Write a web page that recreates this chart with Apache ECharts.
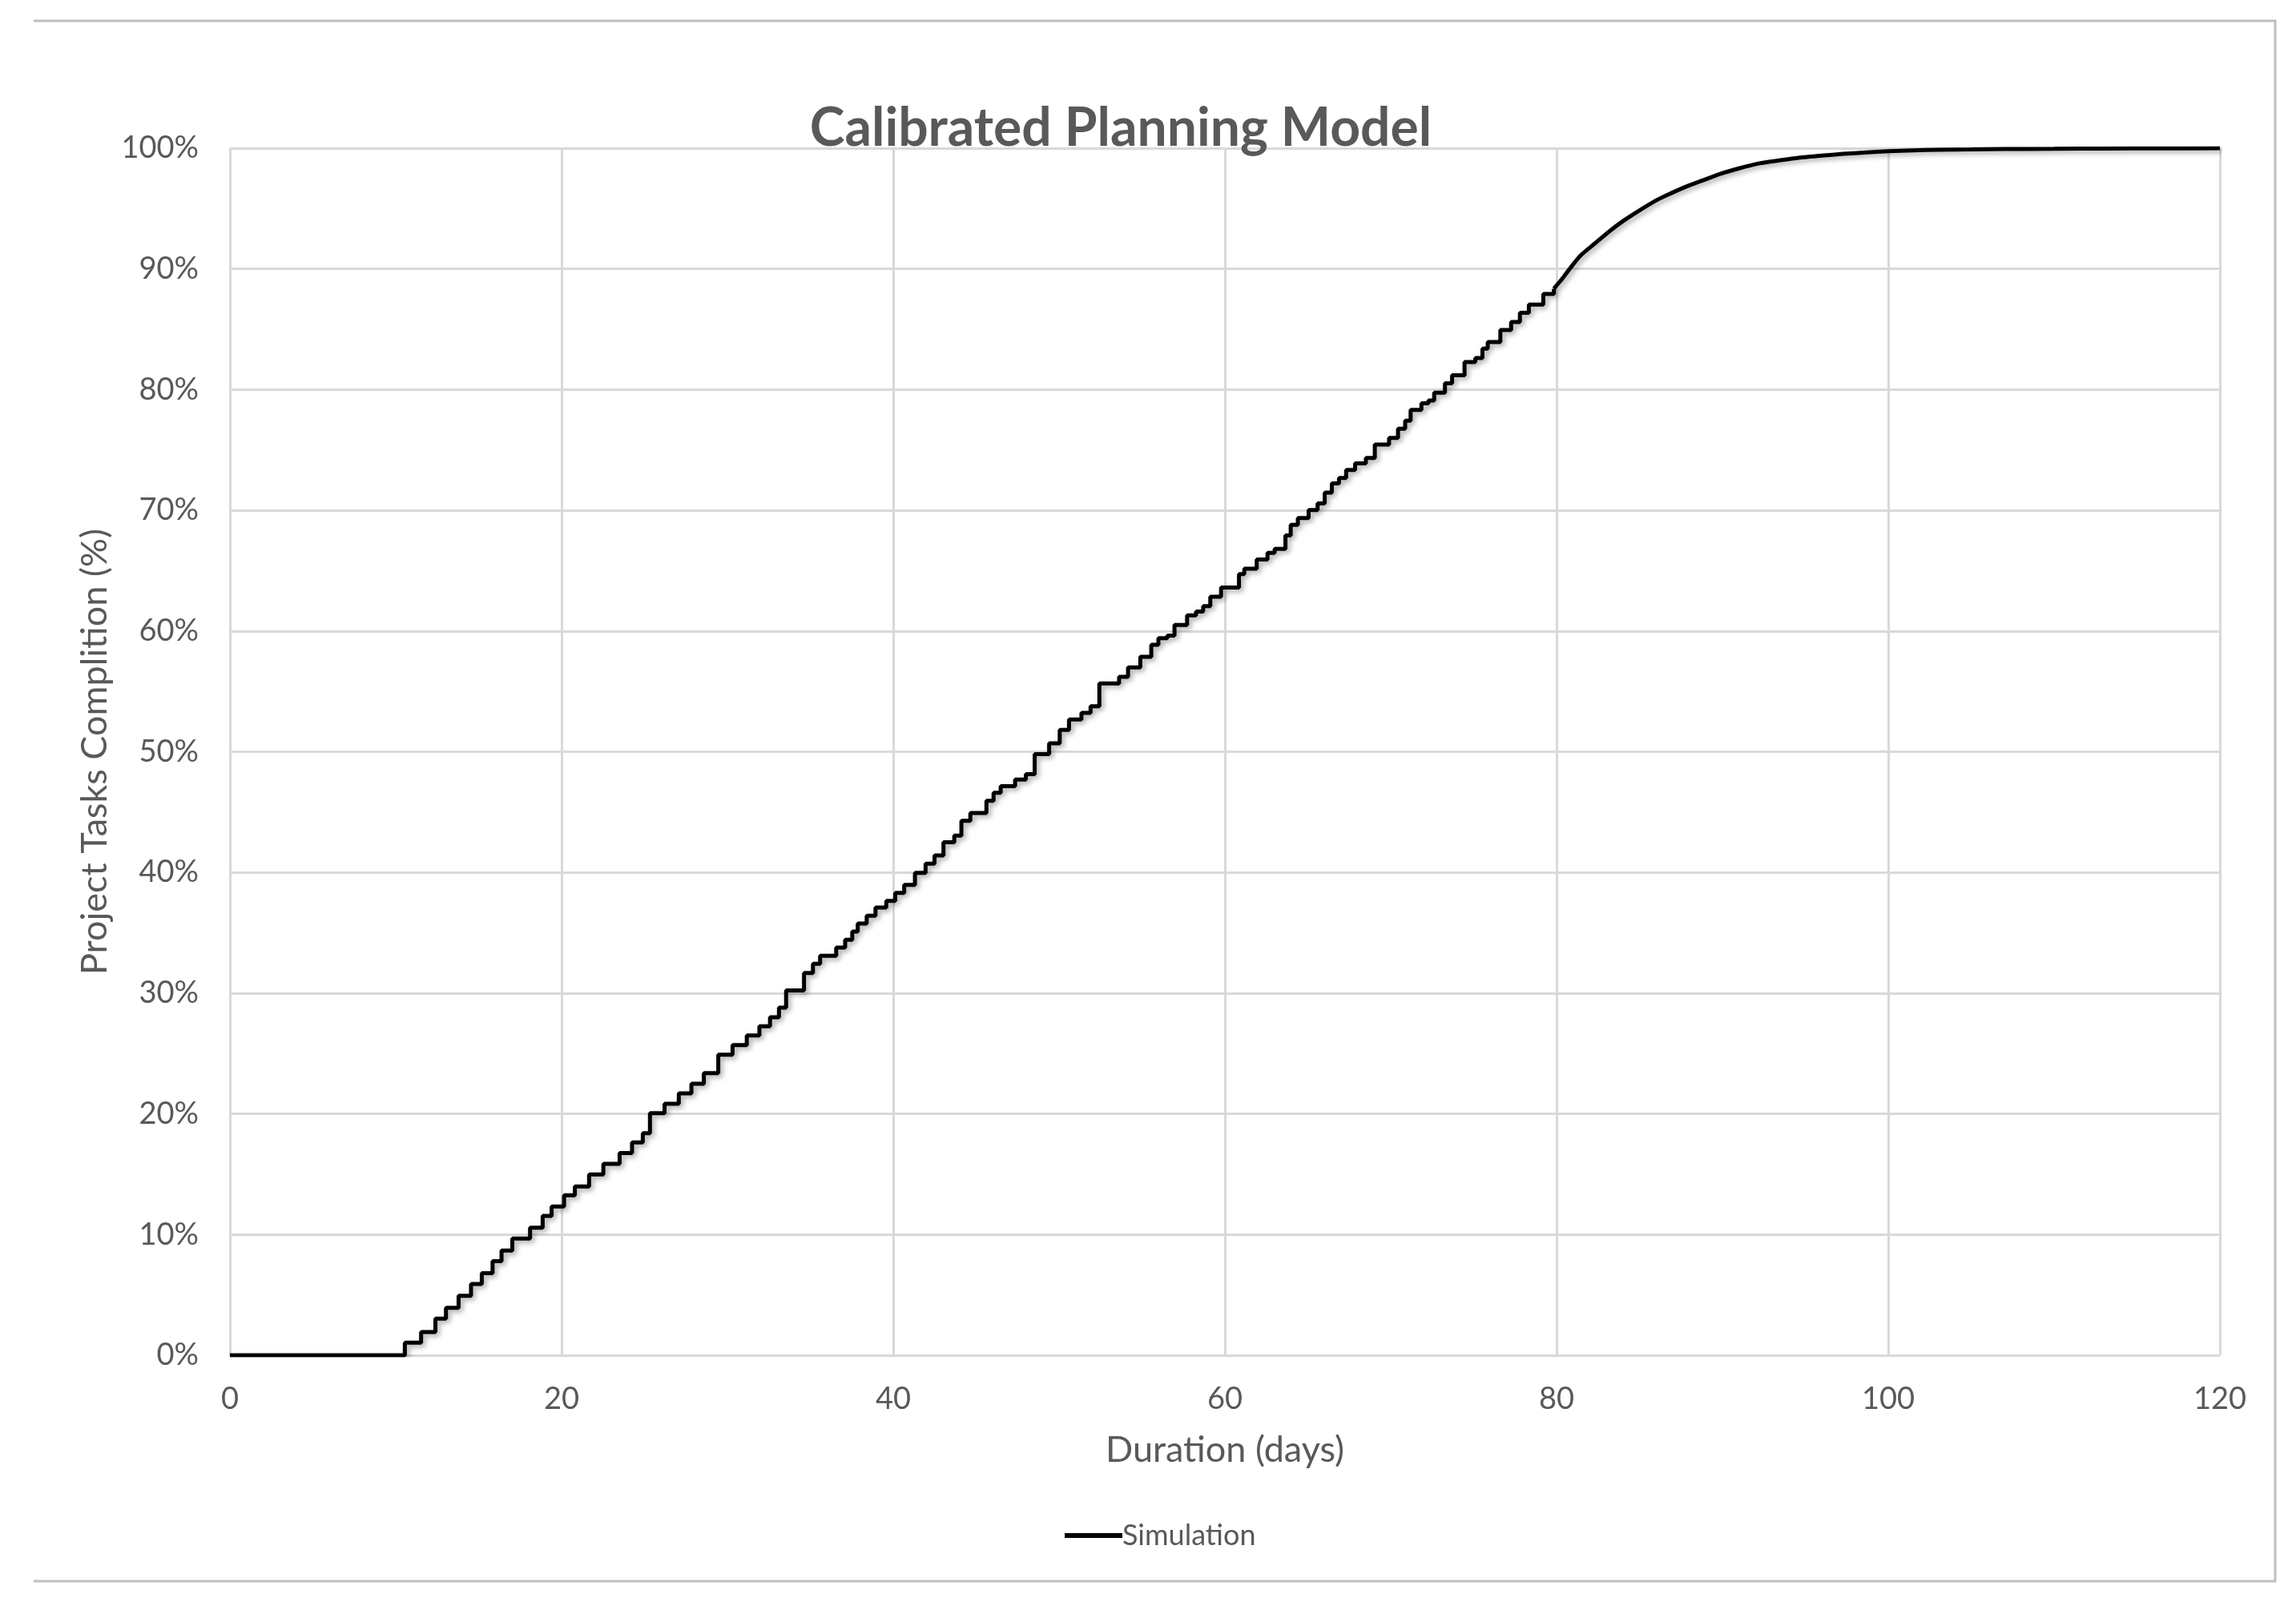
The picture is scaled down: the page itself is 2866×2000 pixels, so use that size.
<!DOCTYPE html>
<html>
<head>
<meta charset="utf-8">
<script src="https://cdn.jsdelivr.net/npm/echarts@6/dist/echarts.min.js"></script>
<style>
  html, body { margin: 0; padding: 0; background: #ffffff; }
  #chart { width: 2866px; height: 2000px; }
</style>
</head>
<body>
<div id="chart"></div>
<script>
// ---- Data ----
const chartTitle = 'Calibrated Planning Model';
const seriesName = 'Simulation';
const xAxisTitle = 'Duration (days)';
const yAxisTitle = 'Project Tasks Complition (%)';
const xTicks = [0, 20, 40, 60, 80, 100, 120];
const yTicks = [0, 10, 20, 30, 40, 50, 60, 70, 80, 90, 100];

// Stepped part of the simulation curve: day at which completion jumps, and completion (%) after it
const stepDays = [
  0, 10.55, 11.53, 12.39, 13.03, 13.79, 14.54, 15.19, 15.84, 16.38, 17.03,
  18.1, 18.86, 19.4, 20.15, 20.8, 21.66, 22.52, 23.5, 24.25, 24.9,
  25.33, 26.21, 27.07, 27.83, 28.58, 29.45, 30.31, 31.17, 31.93, 32.57,
  33.11, 33.54, 34.62, 35.16, 35.59, 36.56, 37.1, 37.53, 37.86, 38.4,
  38.93, 39.58, 40.12, 40.66, 41.31, 41.95, 42.49, 43.03, 43.68, 44.11,
  44.65, 45.62, 46.05, 46.48, 47.35, 48.0, 48.53, 49.4, 50.04, 50.6,
  51.35, 51.9, 52.43, 53.62, 54.16, 54.9, 55.56, 55.99, 56.53, 56.96,
  57.72, 58.26, 58.69, 59.12, 59.77, 60.85, 61.17, 61.92, 62.57, 63.0,
  63.65, 63.97, 64.4, 65.05, 65.59, 66.02, 66.45, 66.88, 67.31, 67.85,
  68.5, 69.04, 69.9, 70.44, 70.87, 71.2, 71.85, 72.28, 72.62, 73.27,
  73.7, 74.45, 75.1, 75.53, 75.85, 76.61, 77.26, 77.79, 78.33, 79.2,
  79.84
];
const stepCompletion = [
  0, 1.05, 1.93, 3.04, 3.93, 4.92, 5.91, 6.8, 7.79, 8.68, 9.67,
  10.56, 11.55, 12.32, 13.25, 13.98, 14.98, 15.86, 16.75, 17.63, 18.4,
  20.06, 20.84, 21.7, 22.5, 23.38, 24.9, 25.7, 26.5, 27.25, 28.0,
  28.8, 30.23, 31.67, 32.44, 33.1, 33.77, 34.43, 35.1, 35.76, 36.42,
  37.09, 37.64, 38.3, 38.96, 39.96, 40.73, 41.4, 42.5, 43.05, 44.27,
  44.93, 45.93, 46.6, 47.14, 47.7, 48.14, 49.8, 50.7, 51.8, 52.67,
  53.22, 53.77, 55.65, 56.2, 56.98, 57.86, 58.86, 59.41, 59.63, 60.5,
  61.29, 61.62, 62.06, 62.84, 63.61, 64.72, 65.16, 65.93, 66.48, 66.8,
  67.92, 68.8, 69.36, 70.02, 70.57, 71.46, 72.23, 72.67, 73.34, 73.89,
  74.33, 75.44, 75.99, 76.76, 77.43, 78.31, 78.86, 79.09, 79.74, 80.52,
  81.18, 82.28, 82.62, 83.39, 83.94, 84.94, 85.6, 86.37, 87.04, 87.92,
  88.36
];
// Smooth tail of the same curve (days 80 to 120)
const tailDays = [
  79.84, 80.38, 80.92, 81.46, 82.32, 83.19, 84.05, 84.91, 85.99, 86.64,
  87.71, 88.79, 89.87, 90.95, 92.24, 93.5, 94.6, 96.0, 97.3, 98.7,
  100, 101.5, 103, 105, 107, 110, 113, 116, 120
];
const tailCompletion = [
  88.36, 89.25, 90.24, 91.13, 92.12, 93.12, 94.0, 94.77, 95.66, 96.1,
  96.76, 97.32, 97.87, 98.31, 98.75, 99.0, 99.2, 99.38, 99.53, 99.65,
  99.75, 99.82, 99.87, 99.9, 99.93, 99.95, 99.97, 99.98, 100
];

// ---- Chart ----
const stepData = stepDays.map((d, i) => [d, stepCompletion[i]]);
const tailData = tailDays.map((d, i) => [d, tailCompletion[i]]);
const FONT = 'Lato, "Open Sans", sans-serif';
const TXT = '#595959';
const GRIDC = '#d9d9d9';
const lineStyle = {
  color: '#000000',
  width: 5,
  shadowColor: 'rgba(0,0,0,0.35)',
  shadowBlur: 6,
  shadowOffsetX: 3,
  shadowOffsetY: 3
};

const chart = echarts.init(document.getElementById('chart'), null, { renderer: 'canvas' });
chart.setOption({
  backgroundColor: '#ffffff',
  animation: false,
  textStyle: { fontFamily: FONT },
  graphic: [
    {
      type: 'polyline',
      shape: { points: [[42, 26], [2840, 26], [2840, 1974], [42, 1974]] },
      style: { stroke: '#bfbfbf', lineWidth: 3, fill: null },
      silent: true
    },
    {
      type: 'text',
      x: 1399,
      y: 161,
      style: {
        text: chartTitle,
        font: 'bold 66px ' + FONT,
        fill: TXT,
        textAlign: 'center',
        textVerticalAlign: 'middle'
      },
      z: 10
    }
  ],
  grid: { left: 287, right: 95, top: 185, bottom: 308, containLabel: false },
  legend: {
    left: 1324,
    top: 1894,
    itemWidth: 72,
    itemHeight: 6,
    itemGap: 4,
    data: [{ name: seriesName, icon: 'rect' }],
    itemStyle: { color: '#000000' },
    textStyle: { fontSize: 36, color: TXT, fontFamily: FONT, padding: [0, 0, 0, -5] }
  },
  xAxis: {
    type: 'value',
    min: xTicks[0],
    max: xTicks[xTicks.length - 1],
    interval: xTicks[1] - xTicks[0],
    name: xAxisTitle,
    nameLocation: 'middle',
    nameGap: 96,
    nameTextStyle: { fontSize: 45, color: TXT, fontFamily: FONT },
    axisLine: { show: false },
    axisTick: { show: false },
    axisLabel: { fontSize: 38, color: TXT, margin: 36, fontFamily: FONT },
    splitLine: { show: true, lineStyle: { color: GRIDC, width: 3 } }
  },
  yAxis: {
    type: 'value',
    min: yTicks[0],
    max: yTicks[yTicks.length - 1],
    interval: yTicks[1] - yTicks[0],
    name: yAxisTitle,
    nameLocation: 'middle',
    nameRotate: 90,
    nameGap: 145,
    nameTextStyle: { fontSize: 45, color: TXT, fontFamily: FONT },
    axisLine: { show: false },
    axisTick: { show: false },
    axisLabel: { fontSize: 38, color: TXT, margin: 39, formatter: '{value}%', fontFamily: FONT },
    splitLine: { show: true, lineStyle: { color: GRIDC, width: 3 } }
  },
  series: [
    {
      name: seriesName,
      type: 'line',
      step: 'end',
      data: stepData,
      showSymbol: false,
      symbol: 'none',
      itemStyle: { color: '#000000' },
      lineStyle: lineStyle,
      z: 5
    },
    {
      name: seriesName,
      type: 'line',
      data: tailData,
      smooth: 0.2,
      showSymbol: false,
      symbol: 'none',
      itemStyle: { color: '#000000' },
      lineStyle: lineStyle,
      z: 5
    }
  ]
});
</script>
</body>
</html>
